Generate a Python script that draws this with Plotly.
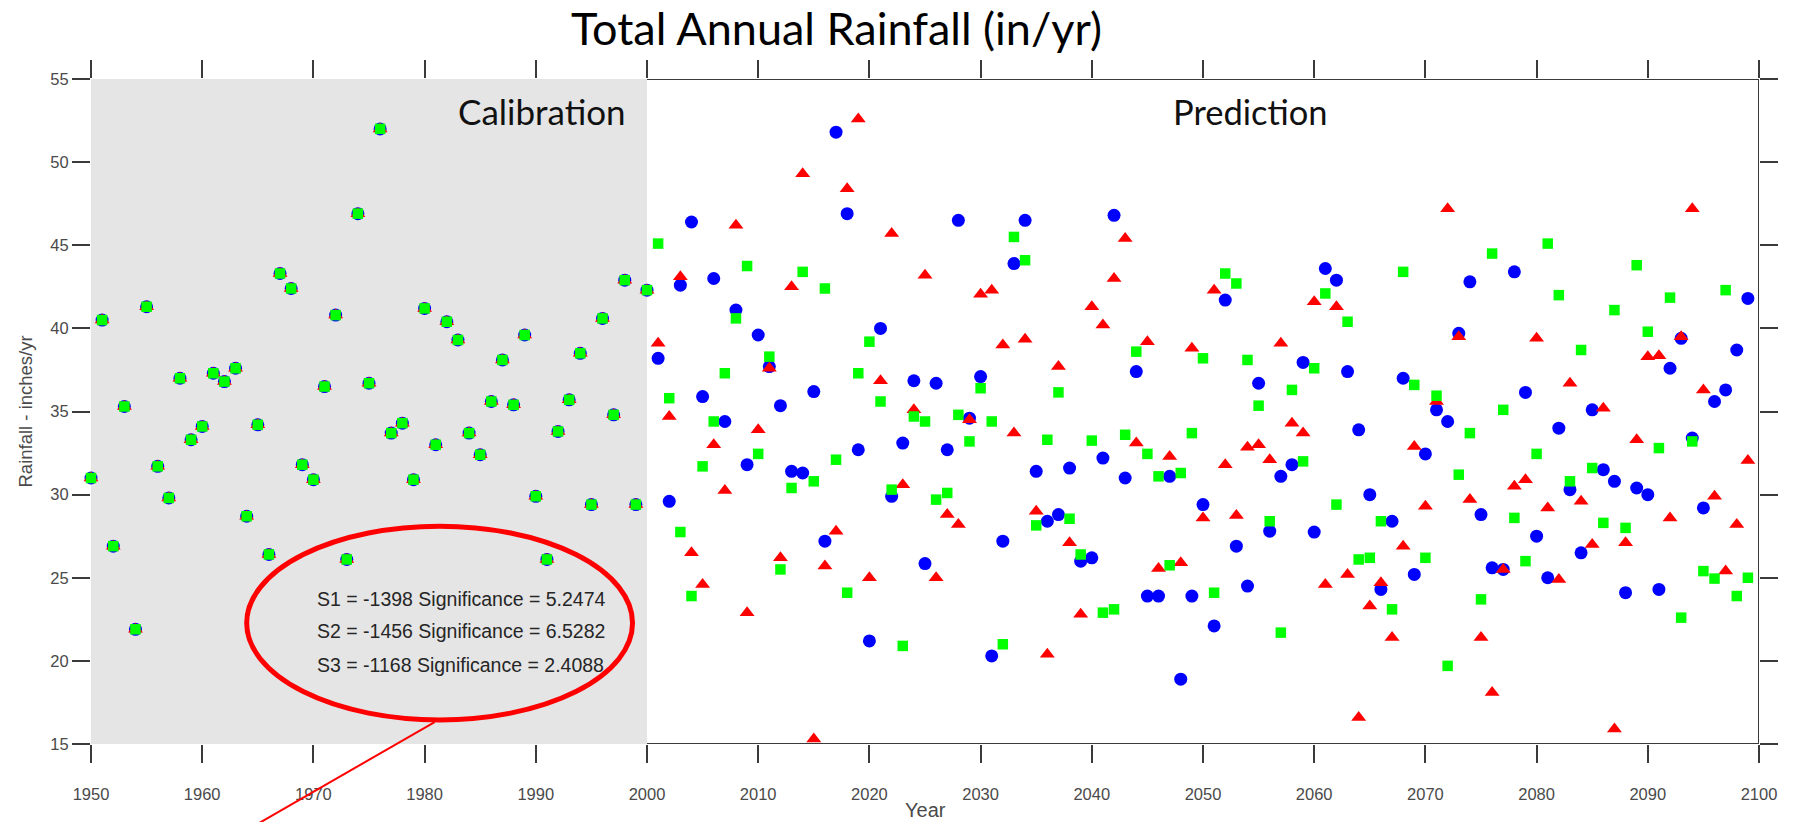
import plotly.graph_objects as go

# ---------------- data ----------------
cal_years = list(range(1950, 2001))
pred_years = list(range(2001, 2100))

# Calibration period: all three series coincide
calibration = [31.0, 40.5, 26.9, 35.3, 21.9, 41.3, 31.7, 29.8, 37.0, 33.3,
               34.1, 37.3, 36.8, 37.6, 28.7, 34.2, 26.4, 43.3, 42.4, 31.8,
               30.9, 36.5, 40.8, 26.1, 46.9, 36.7, 52.0, 33.7, 34.3, 30.9,
               41.2, 33.0, 40.4, 39.3, 33.7, 32.4, 35.6, 38.1, 35.4, 39.6,
               29.9, 26.1, 33.8, 35.7, 38.5, 29.4, 40.6, 34.8, 42.9, 29.4,
               42.3]

s1_pred = [38.2, 29.6, 42.6, 46.4, 35.9, 43.0, 34.4, 41.1, 31.8, 39.6,
           37.7, 35.35, 31.4, 31.3, 36.2, 27.2, 51.8, 46.9, 32.7, 21.2,
           40.0, 29.9, 33.1, 36.85, 25.85, 36.7, 32.7, 46.5, 34.6, 37.1,
           20.3, 27.2, 43.9, 46.5, 31.4, 28.4, 28.8, 31.6, 26.0, 26.2,
           32.2, 46.8, 31.0, 37.4, 23.9, 23.9, 31.1, 18.9, 23.9, 29.4,
           22.1, 41.7, 26.9, 24.5, 36.7, 27.8, 31.1, 31.8, 37.95, 27.75,
           43.6, 42.9, 37.4, 33.9, 30.0, 24.3, 28.4, 37.0, 25.2, 32.45,
           35.1, 34.4, 39.7, 42.8, 28.8, 25.6, 25.5, 43.4, 36.15, 27.5,
           25.0, 34.0, 30.3, 26.5, 35.1, 31.5, 30.8, 24.1, 30.4, 30.0,
           24.3, 37.6, 39.4, 33.4, 29.2, 35.6, 36.3, 38.7, 41.8]

s2_pred = [39.1, 34.7, 43.1, 26.5, 24.6, 33.0, 30.25, 46.2, 22.9, 33.9,
           37.6, 26.2, 42.5, 49.3, 15.3, 25.7, 27.8, 48.4, 52.6, 25.0,
           36.85, 45.7, 30.6, 35.1, 43.2, 25.0, 28.8, 28.2, 34.5, 42.05,
           42.3, 39.0, 33.7, 39.35, 29.0, 20.4, 37.7, 27.1, 22.8, 41.3,
           40.2, 43.0, 45.4, 33.1, 39.2, 25.55, 32.3, 25.9, 38.8, 28.6,
           42.3, 31.8, 28.75, 32.85, 33.0, 32.1, 39.1, 34.3, 33.7, 41.6,
           24.6, 41.3, 25.2, 16.6, 23.3, 24.7, 21.4, 26.9, 32.9, 29.3,
           35.6, 47.2, 39.5, 29.7, 21.4, 18.1, 25.5, 30.5, 30.9, 39.4,
           29.2, 24.9, 36.7, 29.6, 27.0, 35.2, 15.9, 27.1, 33.3, 38.3,
           38.35, 28.6, 39.5, 47.2, 36.3, 29.9, 25.4, 28.2, 32.05]

s3_pred = [45.1, 35.8, 27.75, 23.9, 31.7, 34.4, 37.3, 40.6, 43.75, 32.45,
           38.3, 25.5, 30.4, 43.4, 30.8, 42.4, 32.1, 24.1, 37.3, 39.2,
           35.6, 30.3, 20.9, 34.7, 34.4, 29.7, 30.1, 34.8, 33.2, 36.4,
           34.4, 21.0, 45.5, 44.1, 28.15, 33.3, 36.15, 28.55, 26.4, 33.25,
           22.9, 23.1, 33.6, 38.6, 32.45, 31.1, 25.75, 31.3, 33.7, 38.2,
           24.1, 43.3, 42.7, 38.1, 35.35, 28.4, 21.7, 36.3, 32.0, 37.6,
           42.1, 29.4, 40.4, 26.1, 26.2, 28.4, 23.1, 43.4, 36.6, 26.2,
           35.95, 19.7, 31.2, 33.7, 23.7, 44.5, 35.1, 28.6, 26.0, 32.45,
           45.1, 42.0, 30.8, 38.7, 31.6, 28.3, 41.1, 28.0, 43.8, 39.8,
           32.8, 41.85, 22.6, 33.2, 25.4, 24.95, 42.3, 23.9, 25.0]

x_ticks = list(range(1950, 2101, 10))
y_ticks = list(range(15, 56, 5))
stats_lines = ["S1 = -1398 Significance = 5.2474",
               "S2 = -1456 Significance = 6.5282",
               "S3 = -1168 Significance = 2.4088"]

# ---------------- figure ----------------
years = cal_years + pred_years
fig = go.Figure()
fig.add_trace(go.Scatter(x=years, y=calibration + s1_pred, mode="markers",
                         marker=dict(symbol="circle", size=13, color="#0000ff"),
                         cliponaxis=False, name="S1"))
fig.add_trace(go.Scatter(x=years, y=calibration + s2_pred, mode="markers",
                         marker=dict(symbol="triangle-up", size=13, color="#ff0000"),
                         cliponaxis=False, name="S2"))
fig.add_trace(go.Scatter(x=years, y=calibration + s3_pred, mode="markers",
                         marker=dict(symbol="square", size=10.5, color="#00ff00"),
                         cliponaxis=False, name="S3"))

axis_col = "#3a3a3a"
label_col = "#4a4a4a"
tick_font = dict(family="Liberation Sans, Arial, sans-serif", size=16.5, color=label_col)

# calibration shading and visible axis segments
shapes = [
    dict(type="rect", xref="x", yref="y", x0=1950, x1=2000, y0=15, y1=55,
         fillcolor="#e5e5e5", line=dict(width=0), layer="below"),
    dict(type="line", xref="x", yref="y", x0=2000, x1=2100, y0=55, y1=55,
         line=dict(color=axis_col, width=2), layer="below"),
    dict(type="line", xref="x", yref="y", x0=2000, x1=2100, y0=15, y1=15,
         line=dict(color=axis_col, width=2), layer="below"),
    dict(type="line", xref="x", yref="y", x0=2100, x1=2100, y0=15, y1=55,
         line=dict(color=axis_col, width=2), layer="below"),
    dict(type="circle", xref="x", yref="y", x0=1964.0, x1=1998.7, y0=16.45, y1=28.1,
         line=dict(color="#ff0000", width=5), layer="above"),
    dict(type="line", xref="paper", yref="paper", x0=0.206, y0=0.033, x1=0.100, y1=-0.12,
         line=dict(color="#ff0000", width=2), layer="above"),
]

annotations = [
    dict(text="Calibration", x=1990.6, y=53.05, xref="x", yref="y", showarrow=False,
         font=dict(family="Lato, Open Sans, sans-serif", size=35, color="#111111"),
         xanchor="center", yanchor="middle"),
    dict(text="Prediction", x=2054.3, y=53.05, xref="x", yref="y", showarrow=False,
         font=dict(family="Lato, Open Sans, sans-serif", size=34.5, color="#111111"),
         xanchor="center", yanchor="middle"),
    # axis titles
    dict(text="Year", x=0.5, y=(744 - 810) / 665, xref="paper", yref="paper",
         showarrow=False, xanchor="center", yanchor="middle",
         font=dict(family="Liberation Sans, Arial, sans-serif", size=20, color=label_col)),
    dict(text="Rainfall - inches/yr", x=(25 - 91) / 1668, y=0.5, xref="paper", yref="paper",
         showarrow=False, xanchor="center", yanchor="middle", textangle=-90,
         font=dict(family="Liberation Sans, Arial, sans-serif", size=18.5, color=label_col)),
]
for line, yv in zip(stats_lines, [23.74, 21.82, 19.78]):
    annotations.append(dict(text=line, x=1970.15, y=yv, xref="x", yref="y", showarrow=False,
                            xanchor="left", yanchor="middle",
                            font=dict(family="Liberation Sans, Arial, sans-serif", size=19.5,
                                      color="#262626")))

fig.update_layout(
    width=1793, height=822, autosize=False,
    margin=dict(l=91, r=34, t=79, b=78, autoexpand=False),
    paper_bgcolor="white", plot_bgcolor="white",
    showlegend=False,
    title=dict(text="Total Annual Rainfall (in/yr)", x=836.5 / 1793, xanchor="center",
               y=1 - 29 / 822, yanchor="middle",
               font=dict(family="Lato, Open Sans, sans-serif", size=45, color="#000000")),
    shapes=shapes,
    annotations=annotations,
)
fig.update_xaxes(range=[1950, 2100], tickvals=x_ticks, ticktext=[str(v) for v in x_ticks],
                 showgrid=False, zeroline=False, showline=True, linecolor="rgba(0,0,0,0)",
                 mirror="ticks", ticks="outside", ticklen=18, tickwidth=1.5, tickcolor=axis_col,
                 tickfont=tick_font, ticklabelstandoff=17, automargin=False)
fig.update_yaxes(range=[15, 55], tickvals=y_ticks, ticktext=[str(v) for v in y_ticks],
                 showgrid=False, zeroline=False, showline=True, linecolor="rgba(0,0,0,0)",
                 mirror="ticks", ticks="outside", ticklen=18, tickwidth=1.5, tickcolor=axis_col,
                 tickfont=tick_font, ticklabelstandoff=0, automargin=False)

fig.write_html("out.html", config={"displayModeBar": False},
               post_script="document.body.style.margin='0';")
